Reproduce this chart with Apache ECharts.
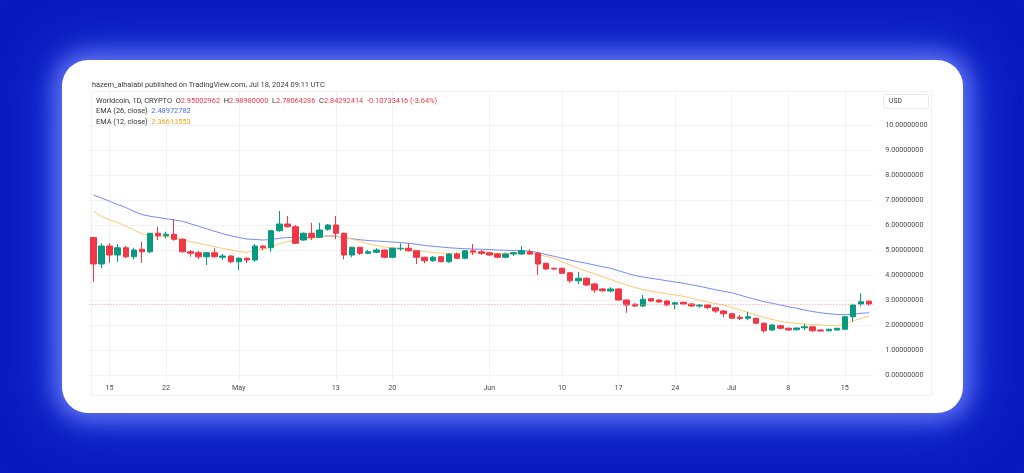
<!DOCTYPE html>
<html>
<head>
<meta charset="utf-8">
<script src="https://cdn.jsdelivr.net/npm/echarts@6/dist/echarts.min.js"></script>
<style>
  html,body{margin:0;padding:0;width:1024px;height:473px;overflow:hidden;background:#0819bd;font-family:Roboto,"Noto Sans",sans-serif;}
  #card{position:absolute;left:62px;top:60px;width:901px;height:353px;background:#fff;border-radius:26px;
        box-shadow:0 0 22px 8px rgba(120,140,255,0.75), 0 0 60px 20px rgba(60,90,250,0.45);}
  #pane{position:absolute;left:91px;top:91px;width:841px;height:305px;border:1px solid #eef0f4;box-sizing:border-box;}
  #chart{position:absolute;left:0;top:0;width:1024px;height:473px;}
  .t{position:absolute;font-size:7.4px;white-space:nowrap;color:#333;line-height:9px;}
  #usd{position:absolute;left:883px;top:94px;width:46px;height:15px;border:1px solid #e6e8ee;border-radius:2px;box-sizing:border-box;font-size:6.8px;color:#444;line-height:13px;padding-left:5px;}
</style>
</head>
<body>
<div id="card"></div>
<div id="pane"></div>
<div id="chart"></div>
<div class="t" style="left:92px;top:80px;color:#3a3a3a;">hazem_alhalabi published on TradingView.com, Jul 18, 2024 09:11 UTC</div>
<div class="t" style="left:96px;top:96px;">Worldcoin, 1D, CRYPTO&nbsp; O<span style="color:#f23645">2.95002962</span>&nbsp; H<span style="color:#f23645">2.98980000</span>&nbsp; L<span style="color:#f23645">2.78064286</span>&nbsp; C<span style="color:#f23645">2.84292414</span>&nbsp; <span style="color:#f23645">-0.10733416 (-3.64%)</span></div>
<div class="t" style="left:96px;top:106px;">EMA (26, close)&nbsp; <span style="color:#4d6cf5">2.48972782</span></div>
<div class="t" style="left:96px;top:116.5px;">EMA (12, close)&nbsp; <span style="color:#f5a623">2.36613553</span></div>
<div id="usd">USD</div>
<script>
// ---- data ----
const startDate = '2024-04-13';
const dayCount = 97;
const tickLabels = {'2024-04-15':'15','2024-04-22':'22','2024-05-01':'May','2024-05-13':'13','2024-05-20':'20',
  '2024-06-01':'Jun','2024-06-10':'10','2024-06-17':'17','2024-06-24':'24','2024-07-01':'Jul','2024-07-08':'8','2024-07-15':'15'};
const open  = [5.5,4.44,5.16,4.8,5.09,4.73,5.03,4.93,5.67,5.57,5.63,5.43,4.93,4.89,4.73,4.89,4.71,4.76,4.53,4.67,
  4.6,5.16,5.09,5.77,6.04,5.93,5.4,5.67,5.51,5.83,6.0,5.67,4.8,5.11,4.87,4.91,5.0,4.71,5.05,5.07,
  4.97,4.71,4.57,4.73,4.53,4.84,4.67,4.97,4.93,4.89,4.84,4.71,4.84,4.84,4.93,4.87,4.47,4.27,4.27,4.09,
  3.77,3.87,3.64,3.44,3.36,3.44,3.0,2.83,2.76,3.05,3.0,2.96,2.83,2.91,2.84,2.76,2.8,2.69,2.56,2.45,
  2.31,2.27,2.27,2.07,1.8,1.97,1.87,1.81,1.89,1.93,1.8,1.77,1.8,1.83,2.33,2.84,2.95];
const high  = [5.5,5.27,5.27,5.23,5.16,5.09,5.33,5.67,5.93,5.73,6.23,5.47,5.0,4.96,4.93,5.07,4.84,4.8,4.71,4.71,
  5.23,5.2,5.8,6.56,6.36,6.0,5.7,6.09,6.09,6.04,6.36,5.7,5.13,5.13,5.0,5.07,5.03,5.09,5.27,5.27,
  5.0,4.73,4.76,4.76,4.87,4.89,5.0,5.24,5.0,4.93,4.89,4.89,4.93,5.16,5.03,4.93,4.49,4.29,4.29,4.13,
  4.13,3.91,3.69,3.47,3.51,3.47,3.03,2.87,3.2,3.08,3.03,3.0,2.93,2.93,2.87,2.84,2.84,2.71,2.6,2.49,
  2.4,2.53,2.3,2.1,2.03,2.0,1.9,1.9,2.05,1.95,1.82,1.85,1.88,2.35,2.85,3.27,2.99];
const low   = [3.73,4.27,4.49,4.53,4.67,4.63,4.49,4.87,5.4,5.47,5.37,4.89,4.73,4.63,4.4,4.71,4.6,4.47,4.2,4.47,
  4.53,5.0,4.93,5.73,5.9,5.24,5.37,5.4,5.47,5.77,5.43,4.63,4.71,4.8,4.83,4.87,4.67,4.67,4.97,4.93,
  4.44,4.47,4.53,4.51,4.49,4.63,4.63,4.8,4.8,4.76,4.67,4.67,4.76,4.8,4.8,4.0,4.2,4.2,4.04,3.69,
  3.64,3.56,3.29,3.33,3.31,2.97,2.49,2.73,2.73,2.93,2.89,2.76,2.63,2.8,2.73,2.69,2.63,2.49,2.31,2.25,
  2.2,2.2,2.03,1.7,1.77,1.83,1.77,1.78,1.8,1.73,1.74,1.75,1.78,1.8,2.13,2.75,2.78];
const close = [4.44,5.16,4.8,5.09,4.73,5.0,4.93,5.67,5.57,5.63,5.43,4.93,4.87,4.73,4.89,4.73,4.76,4.53,4.67,4.6,
  5.16,5.09,5.77,6.04,5.93,5.27,5.67,5.51,5.8,6.0,5.67,4.8,5.11,4.87,4.93,5.0,4.71,5.07,5.07,4.97,
  4.71,4.57,4.71,4.53,4.84,4.67,4.97,4.92,4.87,4.8,4.71,4.84,4.89,4.97,4.84,4.44,4.24,4.24,4.07,3.77,
  3.87,3.6,3.4,3.37,3.44,3.0,2.8,2.76,3.03,2.96,2.92,2.8,2.89,2.84,2.76,2.8,2.7,2.56,2.45,2.27,
  2.26,2.33,2.07,1.77,2.0,1.87,1.8,1.88,1.93,1.77,1.76,1.83,1.87,2.33,2.8,2.93,2.84];
const ema26 = [7.2,7.08,6.95,6.82,6.7,6.55,6.42,6.35,6.3,6.25,6.2,6.15,6.05,5.95,5.85,5.75,5.65,5.57,5.5,5.44,
  5.42,5.4,5.42,5.47,5.5,5.5,5.5,5.51,5.53,5.56,5.55,5.5,5.45,5.41,5.38,5.36,5.34,5.32,5.3,5.27,
  5.23,5.18,5.15,5.12,5.09,5.07,5.05,5.04,5.03,5.02,5.0,4.99,4.98,4.97,4.95,4.9,4.82,4.75,4.67,4.6,
  4.53,4.47,4.4,4.33,4.27,4.17,4.07,3.98,3.92,3.87,3.82,3.77,3.72,3.67,3.61,3.55,3.48,3.41,3.35,3.29,
  3.2,3.1,3.02,2.93,2.87,2.8,2.73,2.67,2.6,2.54,2.49,2.45,2.42,2.41,2.43,2.47,2.49];
const ema12 = [6.55,6.33,6.2,6.1,5.95,5.8,5.65,5.57,5.56,5.55,5.48,5.42,5.33,5.27,5.2,5.13,5.06,5.0,4.94,4.9,
  4.97,5.03,5.12,5.25,5.34,5.4,5.43,5.47,5.52,5.57,5.56,5.5,5.44,5.35,5.25,5.18,5.12,5.09,5.06,5.02,
  4.98,4.94,4.9,4.87,4.87,4.87,4.88,4.88,4.87,4.87,4.86,4.87,4.88,4.88,4.87,4.82,4.75,4.67,4.52,4.4,
  4.27,4.15,4.05,3.93,3.82,3.7,3.6,3.5,3.42,3.36,3.3,3.25,3.2,3.15,3.08,2.99,2.92,2.86,2.8,2.7,
  2.6,2.5,2.4,2.3,2.22,2.15,2.1,2.07,2.04,2.02,2.0,1.98,1.97,2.03,2.15,2.27,2.36];
const lastClose = 2.84292414;
const yTicks = [0,1,2,3,4,5,6,7,8,9,10];

// ---- build ----
const dates = [];
{ const d0 = new Date(startDate + 'T00:00:00Z');
  for (let i = 0; i < dayCount; i++) { const d = new Date(d0.getTime() + i*86400000); dates.push(d.toISOString().slice(0,10)); } }
const ohlc = dates.map((d,i) => [open[i], close[i], low[i], high[i]]);
const isTick = (idx) => tickLabels[dates[idx]] !== undefined;

const chart = echarts.init(document.getElementById('chart'), null, {renderer:'canvas'});
const txt = '#4a4a4a';
chart.setOption({
  animation:false,
  backgroundColor:'transparent',
  grid:[
    {left:93.4, right:1024-869.1, top:92, bottom:473-380},
    {left:89.4, right:1024-873.2, top:125, bottom:473-375}
  ],
  xAxis:[
    {type:'category', gridIndex:0, data:dates, boundaryGap:false,
     axisLine:{show:false}, axisTick:{show:false},
     axisLabel:{interval:(i)=>isTick(i), formatter:(v)=>tickLabels[v]||'', fontSize:7.2, color:txt, margin:5, fontFamily:'Roboto'},
     splitLine:{show:true, interval:(i)=>isTick(i), lineStyle:{color:'#f1f2f5', width:1}}},
    {type:'category', gridIndex:1, data:dates, boundaryGap:true,
     axisLine:{show:false}, axisTick:{show:false}, axisLabel:{show:false}, splitLine:{show:false}}
  ],
  yAxis:[
    {type:'value', gridIndex:0, min:0, max:1, show:false, splitLine:{show:false}},
    {type:'value', gridIndex:1, position:'right', min:yTicks[0], max:yTicks[yTicks.length-1], interval:1,
     axisLine:{show:false}, axisTick:{show:false},
     axisLabel:{formatter:(v)=>v.toFixed(8), fontSize:7.2, color:txt, margin:12, align:'left', fontFamily:'Roboto'},
     splitLine:{show:true, lineStyle:{color:'#f1f2f5', width:1}}}
  ],
  series:[
    {type:'line', xAxisIndex:1, yAxisIndex:1, data:ema26, symbol:'none', lineStyle:{color:'#7489f7', width:1}, z:2},
    {type:'line', xAxisIndex:1, yAxisIndex:1, data:ema12, symbol:'none', lineStyle:{color:'#fbc96f', width:1}, z:2},
    {type:'candlestick', xAxisIndex:1, yAxisIndex:1, data:ohlc, barWidth:6, z:3,
     itemStyle:{color:'#089981', color0:'#f23645', borderColor:'#089981', borderColor0:'#f23645', borderWidth:1},
     markLine:{symbol:['none','none'], silent:true, label:{show:false},
       lineStyle:{color:'#f59aa2', type:[1,2], width:1}, data:[{yAxis:lastClose}]}}
  ]
});
</script>
</body>
</html>
